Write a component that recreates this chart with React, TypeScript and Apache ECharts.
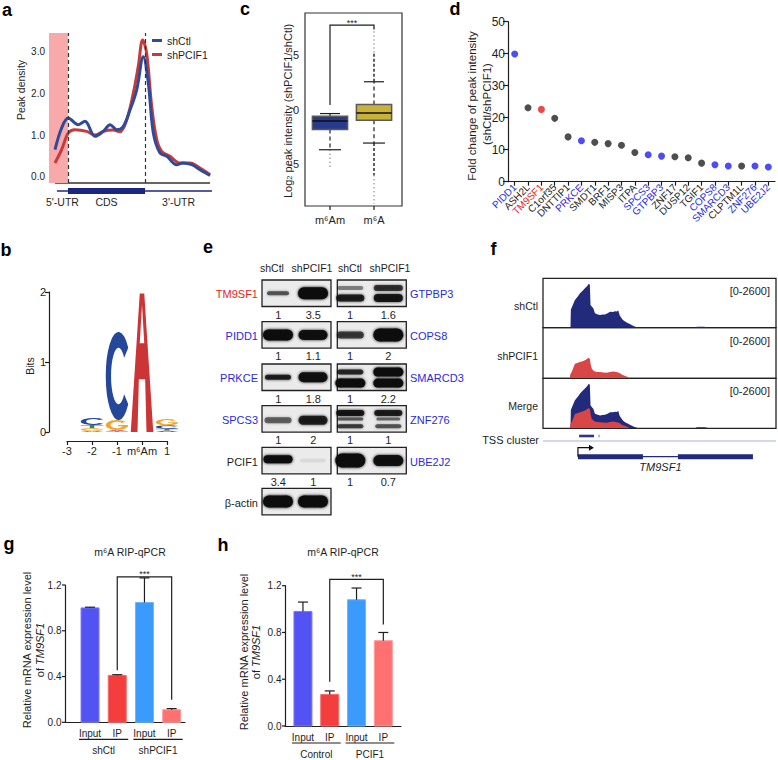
import React, { useEffect, useRef } from "react";
import * as echarts from "echarts";

const FONT = "'Liberation Sans', Arial, Helvetica, sans-serif";
const INK = "#1e1e1e";

// ---------------- Panel a : metagene peak density ----------------
const metaPosCtl = [3.7, 7.8, 11.9, 18.1, 22.2, 28.4, 33.5, 37.7, 41.8, 45.7, 50.0, 54.1, 58.2, 61.3, 64.4, 68.5, 72.7, 78.8, 82.7, 88.1, 93.2, 99.4];
const metaDensityCtl = [0.65, 1.17, 1.41, 1.25, 1.33, 0.97, 1.09, 1.25, 1.13, 1.2, 1.6, 2.08, 2.88, 2.25, 1.05, 0.57, 0.49, 0.29, 0.33, 0.29, 0.17, 0.03];
const metaPosKd = [3.7, 7.8, 11.9, 16.0, 23.3, 28.4, 33.5, 39.5, 43.8, 48.0, 52.0, 55.1, 57.8, 60.3, 63.4, 66.5, 69.6, 74.7, 80.9, 87.0, 93.2, 99.4];
const metaDensityKd = [0.33, 0.65, 1.05, 1.13, 1.09, 1.0, 1.09, 1.12, 1.08, 1.37, 2.0, 2.65, 3.28, 2.96, 1.69, 0.89, 0.61, 0.49, 0.33, 0.33, 0.21, 0.05];
const metaRegions = ["5'-UTR", "CDS", "3'-UTR"];
const metaRegionStart = [4.9, 11.7, 59.3];
const metaRegionEnd = [11.7, 59.3, 100.6];
const metaBoundaries = [11.7, 59.3];
const metaTicks = [0, 1, 2, 3];

// ---------------- Panel b : sequence logo ----------------
const logoColumns = [-2, -1, 0, 1];
const logoBitsA = [0.015, 0.02, 1.98, 0.02];
const logoBitsC = [0.1, 1.26, 0, 0.05];
const logoBitsG = [0.04, 0.14, 0, 0.09];
const logoBitsU = [0.045, 0.01, 0, 0.025];
const logoTickLabels = ["-3", "-2", "-1", "m⁶Am", "1"];

// ---------------- Panel c : box plot ----------------
const boxGroups = ["m⁶Am", "m⁶A"];
const boxLowWhisker = [-3.67, -3.06];
const boxQ1 = [-1.83, -0.98];
const boxMedian = [-1.04, -0.31];
const boxQ3 = [-0.61, 0.46];
const boxHighWhisker = [-0.37, 2.53];
const outlierLowDense = [-3.67, -6.0];
const outlierLowMin = [-5.27, -8.6];
const outlierHighDense = [-0.37, 5.2];
const outlierHighMax = [-0.37, 7.7];
const boxTicks = [-5, 0, 5];

// ---------------- Panel d : fold change ----------------
const dGenes = ["PIDD1", "ASH2L", "TM9SF1", "C1orf35", "DNTTIP1", "PRKCE", "SMDT1", "BRF1", "MISP3", "ITPA", "SPCS3", "GTPBP3", "ZNF17", "DUSP12", "TGIF1", "COPS8", "SMARCD3", "CLPTM1L", "ZNF276", "UBE2J2"];
const dFold = [39.9, 23.1, 22.6, 19.8, 14.0, 12.8, 12.3, 11.9, 11.4, 9.1, 8.4, 8.0, 7.8, 7.5, 5.8, 5.3, 4.9, 4.9, 4.9, 4.6];
const dGroup = ["v", "o", "t", "o", "o", "v", "o", "o", "o", "o", "v", "v", "o", "o", "o", "v", "v", "o", "v", "v"];

// ---------------- Panel e : western blots ----------------
const blotLanes = ["shCtl", "shPCIF1", "shCtl", "shPCIF1"];
const blotLeftLabels = ["TM9SF1", "PIDD1", "PRKCE", "SPCS3", "PCIF1", "β-actin"];
const blotLeftGroup = ["t", "v", "v", "v", "o", "o"];
const blotRightLabels = ["GTPBP3", "COPS8", "SMARCD3", "ZNF276", "UBE2J2"];
const blotLeftQuant = [["1", "3.5"], ["1", "1.1"], ["1", "1.8"], ["1", "2"], ["3.4", "1"]];
const blotRightQuant = [["1", "1.6"], ["1", "2"], ["1", "2.2"], ["1", "1"], ["1", "0.7"]];

// ---------------- Panel f : coverage tracks ----------------
const trackNames = ["shCtl", "shPCIF1", "Merge"];
const trackRange = "[0-2600]";
const ctlTrackPos = [118, 119.5, 123, 137, 150, 159, 170, 180, 190, 195, 201, 204, 210, 216, 223, 235, 245, 255, 266, 277, 288, 300, 309, 316, 323, 329, 333, 342, 352, 363, 373, 388, 409, 655, 660, 672, 690, 700, 710];
const ctlTrackCov = [0, 950, 1050, 1460, 1650, 1810, 1950, 2070, 2200, 2300, 2280, 1200, 1100, 1020, 760, 700, 670, 690, 700, 760, 840, 830, 860, 850, 900, 650, 580, 420, 320, 250, 190, 90, 0, 0, 50, 55, 50, 40, 0];
const kdTrackPos = [115, 117, 123, 137, 150, 159, 170, 180, 190, 195, 201, 205, 209, 216, 223, 235, 245, 260, 273, 288, 302, 315, 323, 332, 338, 350, 359, 373];
const kdTrackCov = [0, 200, 320, 750, 800, 840, 880, 930, 1000, 1060, 1000, 700, 500, 400, 350, 330, 320, 300, 290, 330, 350, 320, 300, 250, 190, 130, 90, 0];
const geneExonStart = [150, 579];
const geneExonEnd = [429, 901];
const tssClusterStart = [155, 239];
const tssClusterEnd = [219, 242];
const geneName = "TM9SF1";

// ---------------- Panels g, h : RIP-qPCR ----------------
const ripLabels = ["Input", "IP", "Input", "IP"];
const ripTicks = [0, 0.4, 0.8, 1.2];
const gGroups = ["shCtl", "shPCIF1"];
const gMean = [1.0, 0.41, 1.047, 0.11];
const gErr = [0.006, 0.006, 0.215, 0.01];
const hGroups = ["Control", "PCIF1"];
const hMean = [0.98, 0.27, 1.08, 0.73];
const hErr = [0.08, 0.03, 0.1, 0.07];
const ripTitle = "m⁶A RIP-qPCR";

// ---------------- styling ----------------
const BLUE_LBL = "#2a2ae0";
const RED_LBL = "#e31e1e";
const groupColor = (g: string) => (g === "v" ? BLUE_LBL : g === "t" ? RED_LBL : INK);
const barColors = ["#5353f3", "#f43e3e", "#3a9bfd", "#ff7171"];
const barEdges = ["#7a7af8", "#f86a6a", "#6cb6ff", "#ff9c9c"];
const LETTER_PATHS: Record<string, string> = {
  A: "M0,100 L40,0 L60,0 L100,100 L70,100 L64,62 L36,62 L30,100 Z M40,36 L60,36 L50,8 Z",
  C: "M86.8,17.9 A48,50 0 1 0 86.8,82.1 L71.4,70.6 A28,32 0 1 1 71.4,29.4 Z",
  G: "M86.8,17.9 A48,50 0 1 0 98,50 L55,50 L55,62 L76,62 A28,32 0 1 1 71.4,29.4 Z",
  U: "M0,0 L100,0 L100,18 L60,18 L60,100 L40,100 L40,18 L0,18 Z",
};
const LETTER_COLORS: Record<string, string> = { A: "#cc3535", C: "#24479a", G: "#f3a52a", U: "#2f9040" };

type Band = [number, number, number, number, number];
const blotBandsLeft: Band[][] = [
  [[0, 0.5, 22, 4, 0.6], [1, 0.5, 30, 12, 1]],
  [[0, 0.5, 30, 11, 1], [1, 0.5, 29, 10, 0.95]],
  [[0, 0.5, 26, 5, 0.85], [1, 0.5, 29, 10, 0.95]],
  [[0, 0.55, 27, 6, 0.55], [1, 0.55, 29, 9, 0.85]],
  [[0, 0.45, 29, 8, 1], [1, 0.5, 26, 4, 0.07]],
  [[0, 0.5, 30, 12, 1], [1, 0.5, 30, 12, 1]],
];
const blotBandsRight: Band[][] = [
  [[0, 0.3, 26, 4, 0.4], [0, 0.68, 28, 7, 0.85], [1, 0.3, 29, 6, 0.75], [1, 0.68, 29, 8, 0.9]],
  [[0, 0.5, 27, 7, 0.7], [1, 0.5, 30, 13, 1]],
  [[0, 0.3, 26, 5, 0.8], [0, 0.72, 30, 9, 1], [1, 0.3, 30, 9, 1], [1, 0.72, 30, 9, 1]],
  [[0, 0.28, 28, 6, 0.9], [0, 0.5, 26, 3, 0.6], [0, 0.78, 26, 4, 0.7], [1, 0.28, 28, 6, 0.85], [1, 0.5, 24, 3, 0.5], [1, 0.78, 26, 4, 0.6]],
  [[0, 0.5, 30, 14, 1], [1, 0.5, 30, 11, 0.95]],
];

const zip = (a: number[], b: number[]) => a.map((v, i) => [v, b[i]]);

function textStyle(text: string, size: number, o: any = {}) {
  const align = o.align || "center";
  const va = o.va || "middle";
  return {
    text,
    fill: o.color || INK,
    font: `${o.italic ? "italic " : ""}${o.bold ? "bold " : ""}${size}px ${FONT}`,
    align,
    textAlign: align,
    verticalAlign: va,
    textVerticalAlign: va,
    lineHeight: o.lh,
    rich: o.rich,
  };
}
function txt(text: string, x: number, y: number, size: number, o: any = {}) {
  return { type: "text", x, y, rotation: o.rot || 0, z: 50, silent: true, style: textStyle(text, size, o) };
}
function seg(x1: number, y1: number, x2: number, y2: number, w = 1.2, color = INK, dash?: number[]) {
  return { type: "line", shape: { x1, y1, x2, y2 }, style: { stroke: color, lineWidth: w, lineDash: dash } };
}

function yTickSeries(axis: number, ticks: number[], fmt: (v: number) => string, size: number, tickLen: number, gap: number) {
  return {
    type: "custom", xAxisIndex: axis, yAxisIndex: axis, clip: false, silent: true,
    data: ticks.map((t) => [0, t]),
    encode: { y: 1 },
    renderItem: (params: any, api: any) => {
      const v = ticks[params.dataIndex];
      const cs = params.coordSys;
      const y = api.coord([0, v])[1];
      const x0 = cs.x;
      const ch: any[] = [];
      if (tickLen > 0) ch.push(seg(x0 - tickLen, y, x0, y, 1.2));
      ch.push({ type: "text", x: x0 - tickLen - gap, y, style: textStyle(fmt(v), size, { align: "right" }) });
      return { type: "group", children: ch };
    },
  };
}

function barSeries(axis: number, means: number[], errs: number[]) {
  return {
    type: "custom", xAxisIndex: axis, yAxisIndex: axis, clip: false, silent: true, z: 3,
    data: means.map((m, i) => [i, m]),
    encode: { x: 0, y: 1 },
    renderItem: (params: any, api: any) => {
      const i = params.dataIndex;
      const m = means[i], e = errs[i];
      const b = api.coord([i, 0]), t = api.coord([i, m]), et = api.coord([i, m + e]);
      const w = 18;
      return {
        type: "group",
        children: [
          { type: "rect", shape: { x: b[0] - w / 2, y: t[1], width: w, height: b[1] - t[1] }, style: { fill: barColors[i], stroke: barEdges[i], lineWidth: 1 } },
          seg(t[0], t[1], et[0], et[1]),
          seg(et[0] - 5, et[1], et[0] + 5, et[1]),
          { type: "text", x: b[0], y: b[1] + 11, style: textStyle(ripLabels[i], 10) },
        ],
      };
    },
  };
}
function groupSeries(axis: number, groups: string[]) {
  return {
    type: "custom", xAxisIndex: axis, yAxisIndex: axis, clip: false, silent: true,
    data: groups.map((_, k) => [k * 2, 0]),
    encode: { x: 0, y: 1 },
    renderItem: (params: any, api: any) => {
      const k = params.dataIndex;
      const a = api.coord([k * 2, 0]), b = api.coord([k * 2 + 1, 0]);
      return {
        type: "group",
        children: [
          seg(a[0] - 11, a[1] + 17, b[0] + 11, a[1] + 17),
          { type: "text", x: (a[0] + b[0]) / 2, y: a[1] + 28, style: textStyle(groups[k], 10) },
        ],
      };
    },
  };
}
function bracketSeries(axis: number, x1: number, x2: number, top: number, leftEnd: number, rightEnd: number) {
  return {
    type: "custom", xAxisIndex: axis, yAxisIndex: axis, clip: false, silent: true, z: 5,
    data: [[x1, top]],
    encode: { x: 0, y: 1 },
    renderItem: (_params: any, api: any) => {
      const p1 = api.coord([x1, leftEnd]);
      const p2 = api.coord([x1, top]);
      const p3 = api.coord([x2, top]);
      const p4 = api.coord([x2, rightEnd]);
      return {
        type: "group",
        children: [
          { type: "polyline", shape: { points: [p1, p2, p3, p4] }, style: { stroke: INK, lineWidth: 1.2, fill: "none" } },
          { type: "text", x: (p2[0] + p3[0]) / 2, y: p2[1] + 2, style: textStyle("***", 9, { va: "bottom" }) },
        ],
      };
    },
  };
}

function buildOption() {
  const graphic: any[] = [];
  const letters: [string, number, number][] = [["a", 7, 10.4], ["b", 6, 250.4], ["c", 245, 8.7], ["d", 455, 8.7], ["e", 208, 246.7], ["f", 493.5, 248.7], ["g", 9, 544.4], ["h", 223, 545.4]];
  letters.forEach(([t, x, y]) => graphic.push(txt(t, x, y, 18, { bold: true, color: "#000" })));

  const R = Math.PI / 2;
  graphic.push(txt("Peak density", 21, 90, 10.5, { rot: R }));
  graphic.push(seg(55, 183, 210, 183, 1.5, "#333"));
  graphic.push(txt("Bits", 30, 366, 10.5, { rot: R }));
  graphic.push(txt("Log{sub|2} peak intensity (shPCIF1/shCtl)", 288, 111, 11, { rot: R, rich: { sub: { fontSize: 7.5, fontFamily: FONT, verticalAlign: "bottom", fill: INK } } }));
  graphic.push(txt("Fold change of peak intensity", 471.7, 106, 11.5, { rot: R }));
  graphic.push(txt("(shCtl/shPCIF1)", 486.5, 104, 11.5, { rot: R }));
  const ripRich = { i: { fontStyle: "italic", fontSize: 11, fontFamily: FONT, fill: INK } };
  graphic.push(txt("Relative mRNA expression level", 27, 650, 11, { rot: R }));
  graphic.push(txt("of {i|TM9SF1}", 39.5, 650, 11, { rot: R, rich: ripRich }));
  graphic.push(txt("Relative mRNA expression level", 244, 652, 11, { rot: R }));
  graphic.push(txt("of {i|TM9SF1}", 255.5, 652, 11, { rot: R, rich: ripRich }));
  graphic.push(txt(ripTitle, 130, 552, 10.5));
  graphic.push(txt(ripTitle, 343, 552, 10.5));

  // panel e: blots
  const headerX = [272, 312, 350, 390];
  blotLanes.forEach((l, i) => graphic.push(txt(l, headerX[i], 268, 10.5)));
  const rowTops = [280, 321.7, 364, 405.7, 447.3, 488.3];
  const boxH = 26.5, boxW = 69;
  const colX = [262, 337.3];
  const laneOff = [[16, 51], [13, 51]];
  const quantOff = [[16.3, 51.3], [12.7, 51]];
  const drawBox = (x: number, y: number, bands: Band[], lanes: number[]) => {
    graphic.push({ type: "rect", shape: { x, y, width: boxW, height: boxH }, style: { fill: "#ebebeb", stroke: "#222", lineWidth: 1.3 }, z: 10, silent: true });
    bands.forEach(([lane, yy, w, h, a]) => {
      graphic.push({
        type: "rect", z: 11, silent: true,
        shape: { x: x + lanes[lane] - w / 2, y: y + yy * boxH - h / 2, width: w, height: h, r: h / 2 },
        style: { fill: `rgba(12,12,12,${a})`, shadowBlur: 3, shadowColor: `rgba(12,12,12,${a})` },
      });
    });
  };
  blotLeftLabels.forEach((lab, r) => {
    drawBox(colX[0], rowTops[r], blotBandsLeft[r], laneOff[0]);
    graphic.push(txt(lab, 258, rowTops[r] + boxH / 2 + 1, 11, { align: "right", color: groupColor(blotLeftGroup[r]) }));
    if (r < blotLeftQuant.length) {
      blotLeftQuant[r].forEach((q, k) => graphic.push(txt(q, colX[0] + quantOff[0][k], rowTops[r] + boxH + 8, 11)));
    }
  });
  blotRightLabels.forEach((lab, r) => {
    drawBox(colX[1], rowTops[r], blotBandsRight[r], laneOff[1]);
    graphic.push(txt(lab, 410, rowTops[r] + boxH / 2 + 1, 11, { align: "left", color: BLUE_LBL }));
    blotRightQuant[r].forEach((q, k) => graphic.push(txt(q, colX[1] + quantOff[1][k], rowTops[r] + boxH + 8, 11)));
  });

  const trackTops = [278.3, 327.7, 378.3];
  trackNames.forEach((n, i) => {
    graphic.push(txt(n, 538, trackTops[i] + 28, 10.5, { align: "right" }));
    graphic.push(txt(trackRange, 770, trackTops[i] + 13, 11, { align: "right" }));
  });
  graphic.push(txt("TSS cluster", 539, 440, 11, { align: "right" }));

  const grids = [
    { left: 49, top: 33, width: 162, height: 150 },
    { left: 67, top: 292, width: 100, height: 140 },
    { left: 305, top: 13, width: 97, height: 193, show: true, borderColor: "#333", borderWidth: 1.2 },
    { left: 508, top: 21.7, width: 267, height: 160 },
    { left: 543, top: 278.3, width: 233, height: 49.4, show: true, borderColor: "#222", borderWidth: 1.3 },
    { left: 543, top: 327.7, width: 233, height: 50.6, show: true, borderColor: "#222", borderWidth: 1.3 },
    { left: 543, top: 378.3, width: 233, height: 50, show: true, borderColor: "#222", borderWidth: 1.3 },
    { left: 543, top: 430, width: 233, height: 40 },
    { left: 65, top: 585, width: 120, height: 137.3 },
    { left: 285, top: 585.7, width: 116, height: 140.3 },
  ].map((g) => ({ ...g, containLabel: false, outerBoundsMode: "none" }));

  const axLine = { show: true, onZero: false, lineStyle: { color: INK, width: 1.2 } };
  const noLine = { show: false, onZero: false };
  const noSplit = { show: false };
  const hidden = (gi: number, min: number, max: number) => ({ gridIndex: gi, type: "value", min, max, show: false, axisLine: noLine, splitLine: noSplit });
  const bareAxis = (gi: number, min: number, max: number, line: boolean) => ({
    gridIndex: gi, type: "value", min, max,
    axisLine: line ? axLine : noLine, axisTick: { show: false }, axisLabel: { show: false }, splitLine: noSplit,
  });

  const xAxis: any[] = [
    hidden(0, 0, 100),
    {
      gridIndex: 1, type: "value", min: -3, max: 1, interval: 1, offset: 9,
      axisLine: axLine, axisTick: { show: true, length: 4, lineStyle: { color: INK, width: 1.2 } },
      axisLabel: { fontSize: 11, color: INK, margin: 4, hideOverlap: false, formatter: (v: number) => logoTickLabels[Math.round(v) + 3] },
      splitLine: noSplit,
    },
    hidden(2, -0.568, 1.636),
    {
      gridIndex: 3, type: "category", data: dGenes,
      axisLine: axLine, axisTick: { show: true, alignWithLabel: true, length: 4, lineStyle: { color: INK, width: 1.2 } },
      axisLabel: { interval: 0, rotate: 45, fontSize: 10, margin: 4, hideOverlap: false, color: (_v: any, i: number) => groupColor(dGroup[i]) },
      splitLine: noSplit,
    },
    hidden(4, 0, 1000), hidden(5, 0, 1000), hidden(6, 0, 1000), hidden(7, 0, 1000),
    bareAxis(8, -0.92, 3.49, true),
    bareAxis(9, -0.67, 3.66, true),
  ];
  const yAxis: any[] = [
    bareAxis(0, -0.15, 3.45, false),
    {
      gridIndex: 1, type: "value", min: 0, max: 2, interval: 1, offset: 18,
      axisLine: axLine, axisTick: { show: true, length: 4, lineStyle: { color: INK, width: 1.2 } },
      axisLabel: { fontSize: 11, color: INK, margin: 3, hideOverlap: false }, splitLine: noSplit,
    },
    bareAxis(2, -8.8, 8.8, false),
    {
      gridIndex: 3, type: "value", min: 0, max: 50, interval: 10,
      axisLine: axLine, axisTick: { show: true, length: 5, lineStyle: { color: INK, width: 1.2 } },
      axisLabel: { fontSize: 12, color: INK, margin: 3, hideOverlap: false }, splitLine: noSplit,
    },
    hidden(4, 0, 2600), hidden(5, 0, 2600), hidden(6, 0, 2600), hidden(7, 0, 40),
    bareAxis(8, 0, 1.2, true), bareAxis(9, 0, 1.2, true),
  ];

  const NAVY = "#2e4b9b";
  const RED = "#c83a3a";
  const TRACK_BLUE = "#222a7c";
  const TRACK_RED = "#d84646";

  const series: any[] = [
    {
      name: "shPCIF1", type: "line", xAxisIndex: 0, yAxisIndex: 0, data: zip(metaPosKd, metaDensityKd),
      smooth: 0.35, symbol: "none", lineStyle: { color: RED, width: 3 }, itemStyle: { color: RED }, z: 3, silent: true,
      markArea: { silent: true, itemStyle: { color: "#f8a9a9" }, data: [[{ xAxis: 0 }, { xAxis: metaBoundaries[0] }]] },
      markLine: {
        silent: true, symbol: "none", label: { show: false },
        lineStyle: { type: [4, 3], color: "#333", width: 1.2 },
        data: metaBoundaries.map((b) => ({ xAxis: b })),
      },
    },
    {
      name: "shCtl", type: "line", xAxisIndex: 0, yAxisIndex: 0, data: zip(metaPosCtl, metaDensityCtl),
      smooth: 0.35, symbol: "none", lineStyle: { color: NAVY, width: 3 }, itemStyle: { color: NAVY }, z: 4, silent: true,
    },
    yTickSeries(0, metaTicks, (v) => v.toFixed(1), 10, 0, 4),
    {
      type: "custom", xAxisIndex: 0, yAxisIndex: 0, clip: false, silent: true,
      data: metaRegions.map((_, i) => [metaRegionStart[i], 0]),
      encode: { x: 0, y: 1 },
      renderItem: (params: any, api: any) => {
        const i = params.dataIndex;
        const s = api.coord([metaRegionStart[i], -0.15]);
        const e = api.coord([metaRegionEnd[i], -0.15]);
        const y = s[1] + 8;
        const mark = i === 1
          ? { type: "rect", shape: { x: s[0], y: y - 3, width: e[0] - s[0], height: 6 }, style: { fill: "#1c2680" } }
          : seg(s[0], y, e[0], y, 1.5, "#1c2680");
        return { type: "group", children: [mark, { type: "text", x: (s[0] + e[0]) / 2, y: y + 11, style: textStyle(metaRegions[i], 10.5) }] };
      },
    },
    // b: sequence logo
    {
      type: "custom", xAxisIndex: 1, yAxisIndex: 1, clip: false, silent: true,
      data: logoColumns.map((c) => [c, 0]),
      encode: { x: 0, y: 1 },
      renderItem: (params: any, api: any) => {
        const i = params.dataIndex;
        const col = logoColumns[i];
        const stack = [
          { l: "A", h: logoBitsA[i] }, { l: "C", h: logoBitsC[i] }, { l: "G", h: logoBitsG[i] }, { l: "U", h: logoBitsU[i] },
        ].filter((s) => s.h > 0).sort((a, b) => a.h - b.h);
        const children: any[] = [];
        let base = 0;
        stack.forEach(({ l, h }) => {
          const p0 = api.coord([col - 0.45, base + h]);
          const p1 = api.coord([col + 0.45, base]);
          if (p1[1] - p0[1] > 0.4) {
            children.push({
              type: "path",
              shape: { pathData: LETTER_PATHS[l], x: p0[0], y: p0[1], width: p1[0] - p0[0], height: p1[1] - p0[1], layout: "cover" },
              style: { fill: LETTER_COLORS[l] },
            });
          }
          base += h;
        });
        return { type: "group", children };
      },
    },
    // c: box plot
    yTickSeries(2, boxTicks, (v) => String(v), 11, 0, 6),
    {
      type: "custom", xAxisIndex: 2, yAxisIndex: 2, clip: false, silent: true, z: 3,
      data: boxGroups.map((_, i) => [i, boxMedian[i]]),
      encode: { x: 0, y: 1 },
      renderItem: (params: any, api: any) => {
        const i = params.dataIndex;
        const x = i;
        const Y = (v: number) => api.coord([x, v])[1];
        const cx = api.coord([x, 0])[0];
        const lo = boxLowWhisker[i], q1 = boxQ1[i], med = boxMedian[i], q3 = boxQ3[i], hi = boxHighWhisker[i];
        const lowDense = outlierLowDense[i], lowMin = outlierLowMin[i], highDense = outlierHighDense[i], highMax = outlierHighMax[i];
        const tl = api.coord([x - 0.4, q3]);
        const br = api.coord([x + 0.4, q1]);
        const ch: any[] = [];
        ch.push(seg(cx, Y(q3), cx, Y(hi), 1.2, INK, [4, 3]));
        ch.push(seg(cx, Y(q1), cx, Y(lo), 1.2, INK, [4, 3]));
        ch.push(seg(cx - 10, Y(hi), cx + 10, Y(hi), 1.2));
        ch.push(seg(cx - 11, Y(lo), cx + 11, Y(lo), 1.2));
        if (highDense > hi) ch.push(seg(cx, Y(hi), cx, Y(highDense), 1.4, INK, [3, 2]));
        if (highMax > highDense) ch.push(seg(cx, Y(highDense), cx, Y(highMax), 1, "#444", [1, 3]));
        if (lowDense < lo) ch.push(seg(cx, Y(lo), cx, Y(lowDense), 1.4, INK, [3, 2]));
        if (lowMin < lowDense) ch.push(seg(cx, Y(lowDense), cx, Y(lowMin), 1, "#444", [1, 3]));
        ch.push({ type: "rect", shape: { x: tl[0], y: tl[1], width: br[0] - tl[0], height: br[1] - tl[1] }, style: { fill: i === 0 ? "#283a8e" : "#c9b23a", stroke: "#5a5a5a", lineWidth: 1.5 } });
        ch.push(seg(tl[0], Y(med), br[0], Y(med), 1.5, "#111"));
        const by = Y(-8.8);
        ch.push(seg(cx, by, cx, by + 4, 1.2));
        ch.push({ type: "text", x: cx, y: by + 14, style: textStyle(boxGroups[i], 11) });
        return { type: "group", children: ch };
      },
    },
    bracketSeries(2, 0, 1, 7.7, 0.4, 7.3),
    // d: scatter
    {
      type: "scatter", xAxisIndex: 3, yAxisIndex: 3, symbolSize: 7, silent: true, z: 4,
      data: dFold.map((v, i) => ({ value: v, itemStyle: { color: dGroup[i] === "v" ? "#2020f5" : dGroup[i] === "t" ? "#e61c1c" : "#222" } })),
    },
    // f: tracks
    { type: "line", xAxisIndex: 4, yAxisIndex: 4, data: zip(ctlTrackPos, ctlTrackCov), symbol: "none", silent: true, lineStyle: { width: 0 }, itemStyle: { color: TRACK_BLUE }, areaStyle: { color: TRACK_BLUE, opacity: 1 } },
    { type: "line", xAxisIndex: 5, yAxisIndex: 5, data: zip(kdTrackPos, kdTrackCov), symbol: "none", silent: true, lineStyle: { width: 0 }, itemStyle: { color: TRACK_RED }, areaStyle: { color: TRACK_RED, opacity: 1 } },
    { type: "line", xAxisIndex: 6, yAxisIndex: 6, data: zip(ctlTrackPos, ctlTrackCov), symbol: "none", silent: true, lineStyle: { width: 0 }, itemStyle: { color: TRACK_BLUE }, areaStyle: { color: TRACK_BLUE, opacity: 1 }, z: 2 },
    { type: "line", xAxisIndex: 6, yAxisIndex: 6, data: zip(kdTrackPos, kdTrackCov), symbol: "none", silent: true, lineStyle: { width: 0 }, itemStyle: { color: TRACK_RED }, areaStyle: { color: TRACK_RED, opacity: 1 }, z: 3 },
    {
      type: "custom", xAxisIndex: 7, yAxisIndex: 7, clip: false, silent: true,
      data: [[0, 0]], encode: { x: 0, y: 1 },
      renderItem: (_params: any, api: any) => {
        const X = (u: number) => api.coord([u, 0])[0];
        const Y = (v: number) => api.coord([0, v])[1];
        const ch: any[] = [];
        ch.push(seg(X(0), Y(29), X(1000), Y(29), 1, "#a9b3cf"));
        tssClusterStart.forEach((s, k) => ch.push({ type: "rect", shape: { x: X(s), y: Y(34) - 1.3, width: X(tssClusterEnd[k]) - X(s), height: 2.6 }, style: { fill: "#2a3592" } }));
        ch.push(seg(X(geneExonEnd[0]), Y(13.3), X(geneExonStart[1]), Y(13.3), 1.3, "#222a7c"));
        geneExonStart.forEach((s, k) => ch.push({ type: "rect", shape: { x: X(s), y: Y(13.3) - 2.5, width: X(geneExonEnd[k]) - X(s), height: 5 }, style: { fill: "#222a7c" } }));
        const ax = X(geneExonStart[0]);
        ch.push({ type: "polyline", shape: { points: [[ax, Y(13.3)], [ax, Y(22.3)], [ax + 12, Y(22.3)]] }, style: { stroke: "#111", lineWidth: 1.2, fill: "none" } });
        ch.push({ type: "polygon", shape: { points: [[ax + 11, Y(22.3) - 3], [ax + 16, Y(22.3)], [ax + 11, Y(22.3) + 3]] }, style: { fill: "#111" } });
        ch.push({ type: "text", x: (X(geneExonStart[0]) + X(geneExonEnd[1])) / 2 - 5, y: Y(3.3), style: textStyle(geneName, 11, { italic: true }) });
        return { type: "group", children: ch };
      },
    },
    // g, h
    yTickSeries(8, ripTicks, (v) => v.toFixed(1), 10, 3, 0.5),
    barSeries(8, gMean, gErr), groupSeries(8, gGroups), bracketSeries(8, 1, 3, 1.271, 0.455, 0.197),
    yTickSeries(9, ripTicks, (v) => v.toFixed(1), 10, 3, 0.5),
    barSeries(9, hMean, hErr), groupSeries(9, hGroups), bracketSeries(9, 1, 3, 1.254, 0.378, 0.868),
  ];

  return {
    animation: false,
    backgroundColor: "#ffffff",
    textStyle: { fontFamily: FONT },
    legend: {
      data: ["shCtl", "shPCIF1"], left: 152, top: 35, orient: "vertical", icon: "rect",
      itemWidth: 10, itemHeight: 3, itemGap: 3, padding: 0, selectedMode: false,
      textStyle: { fontSize: 10.5, color: INK, fontFamily: FONT },
    },
    grid: grids,
    xAxis,
    yAxis,
    series,
    graphic: { elements: graphic },
  };
}

export default function App() {
  const ref = useRef<HTMLDivElement>(null);
  useEffect(() => {
    const chart = echarts.init(ref.current!, null, { renderer: "svg" });
    chart.setOption(buildOption() as any);
    return () => chart.dispose();
  }, []);
  return <div ref={ref} style={{ position: "fixed", left: 0, top: 0, width: 778, height: 760, background: "#fff" }} />;
}
